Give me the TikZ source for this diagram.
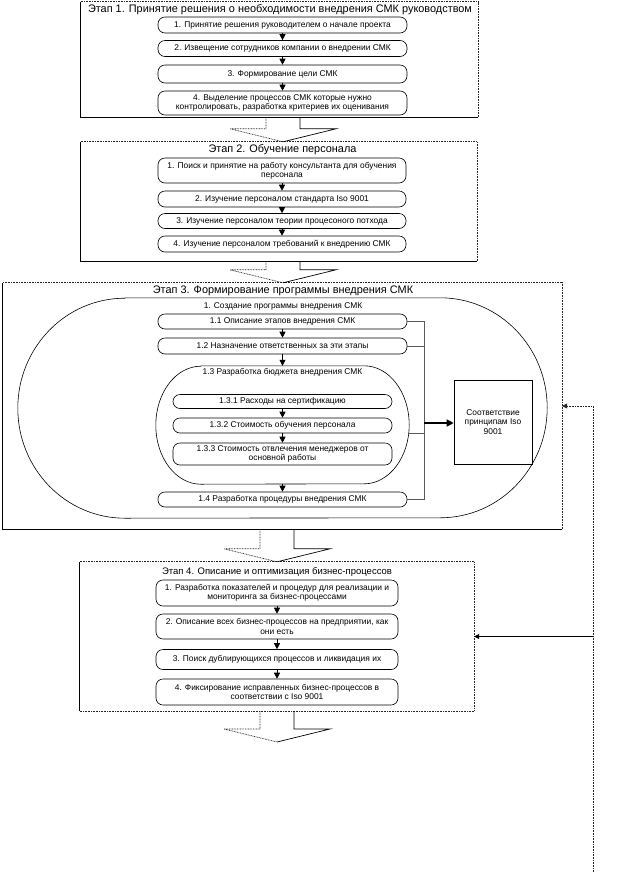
\documentclass[tikz,border=0pt]{standalone}
\usepackage{fontspec}
\setmainfont{Liberation Sans}
\usetikzlibrary{arrows.meta}

\begin{document}
\begin{tikzpicture}[x=1pt, y=-1pt,
  stage/.style={inner sep=0pt},
  title/.style={font=\fontsize{10.9}{12}\selectfont, inner sep=0pt},
  task/.style={draw, line width=0.6pt, rounded corners=7pt, align=center, inner sep=1pt, font=\fontsize{8.4}{9.4}\selectfont},
  note/.style={font=\fontsize{8.4}{9.4}\selectfont, inner sep=1pt},
  rim/.style={line width=0.7pt},
  rimdot/.style={line width=0.7pt, dash pattern=on 0.8pt off 0.8pt, black!85},
  flow/.style={-{Triangle[length=6pt, width=6pt]}, line width=0.6pt},
  link/.style={line width=0.6pt, black!65},
]
  \path[fill=white, use as bounding box] (0,0) rectangle (618,884);

  % stage 1
  \node[stage, minimum width=397pt, minimum height=115pt] (s1) at (279.5,59.5) {};
  \node[title] (t1) at (280,10) {Этап 1. Принятие решения о необходимости внедрения СМК руководством};
  \node[task, minimum width=249pt, minimum height=16pt] (s1a) at (282.5,25) {1. Принятие решения руководителем о начале проекта};
  \node[task, minimum width=249pt, minimum height=16pt] (s1b) at (282.5,48.5) {2. Извещение сотрудников компании о внедрении СМК};
  \node[task, minimum width=249pt, minimum height=18pt] (s1c) at (282.5,74) {3. Формирование цели СМК};
  \node[task, minimum width=249pt, minimum height=24pt] (s1d) at (282.5,103) {4. Выделение процессов СМК которые нужно\\контролировать, разработка критериев их оценивания};

  % stage 2
  \node[stage, minimum width=396pt, minimum height=119pt] (s2) at (279,201.5) {};
  \node[title] (t2) at (282.5,150) {Этап 2. Обучение персонала};
  \node[task, minimum width=248pt, minimum height=25pt] (s2a) at (282,170.5) {1. Поиск и принятие на работу консультанта для обучения\\персонала};
  \node[task, minimum width=248pt, minimum height=16pt] (s2b) at (282,199) {2. Изучение персоналом стандарта Iso 9001};
  \node[task, minimum width=248pt, minimum height=15pt] (s2c) at (282,221) {3. Изучение персоналом теории процесоного потхода};
  \node[task, minimum width=248pt, minimum height=16pt] (s2d) at (282,244) {4. Изучение персоналом требований к внедрению СМК};

  % stage 3
  \node[stage, minimum width=559pt, minimum height=246pt] (s3) at (282.5,406) {};
  \node[title] (t3) at (283,290.5) {Этап 3. Формирование программы внедрения СМК};
  \node[stage, minimum width=529pt, minimum height=220pt] (prog) at (282.5,408) {};
  \draw[line width=0.6pt] ([xshift=107pt]prog.north west) -- ([xshift=-107pt]prog.north east)
    arc[start angle=90, end angle=-90, x radius=107pt, y radius=110pt]
    -- ([xshift=107pt]prog.south west)
    arc[start angle=270, end angle=90, x radius=107pt, y radius=110pt] -- cycle;
  \node[note] (progt) at (283,306) {1. Создание программы внедрения СМК};
  \node[task, minimum width=249pt, minimum height=15pt] (i11) at (282.5,321.5) {1.1 Описание этапов внедрения СМК};
  \node[task, minimum width=249pt, minimum height=16pt] (i12) at (282.5,346) {1.2 Назначение ответственных за эти этапы};
  \node[stage, minimum width=253pt, minimum height=118pt] (budget) at (282.5,425) {};
  \draw[line width=0.6pt] ([xshift=45pt]budget.north west) -- ([xshift=-45pt]budget.north east)
    arc[start angle=90, end angle=-90, x radius=45pt, y radius=59pt]
    -- ([xshift=45pt]budget.south west)
    arc[start angle=270, end angle=90, x radius=45pt, y radius=59pt] -- cycle;
  \node[note, fill=white] (budgett) at (282.5,372.5) {1.3 Разработка бюджета внедрения СМК};
  \node[task, minimum width=219pt, minimum height=14pt] (i131) at (282.5,401.5) {1.3.1 Расходы на сертификацию};
  \node[task, minimum width=219pt, minimum height=15pt] (i132) at (282.5,425.5) {1.3.2 Стоимость обучения персонала};
  \node[task, minimum width=219pt, minimum height=22pt] (i133) at (282.5,454) {1.3.3 Стоимость отвлечения менеджеров от\\основной работы};
  \node[task, minimum width=249pt, minimum height=15pt] (i14) at (282.5,499.5) {1.4 Разработка процедуры внедрения СМК};
  \node[draw, line width=0.6pt, note, align=center, minimum width=78pt, minimum height=84pt] (iso) at (493,422) {Соответствие\\принципам Iso\\9001};
  \coordinate (bus) at (424,423);

  % stage 4
  \node[stage, minimum width=394pt, minimum height=149pt] (s4) at (277,636.5) {};
  \node[title, font=\fontsize{9.5}{11}\selectfont] (t4) at (277,572) {Этап 4. Описание и оптимизация бизнес-процессов};
  \node[task, minimum width=242pt, minimum height=26pt] (s4a) at (277,593) {1. Разработка показателей и процедур для реализации и\\мониторинга за бизнес-процессами};
  \node[task, minimum width=242pt, minimum height=25pt] (s4b) at (277,626.5) {2. Описание всех бизнес-процессов на предприятии, как\\они есть};
  \node[task, minimum width=242pt, minimum height=20pt] (s4c) at (277,659.5) {3. Поиск дублирующихся процессов и ликвидация их};
  \node[task, minimum width=242pt, minimum height=26pt] (s4d) at (277,692) {4. Фиксирование исправленных бизнес-процессов в\\соответствии с Iso 9001};
  \coordinate (s5) at (277,742);
  \coordinate (fb) at (593,872);

  % stage frames
  \foreach \s in {s1,s2,s3} {
    \draw[rim] (\s.north west) -- (\s.south west) -- (\s.south east);
    \draw[rimdot] (\s.south east) -- (\s.north east) -- (\s.north west);
  }
  \draw[rim] (s4.north west) -- (s4.south west);
  \draw[rimdot] (s4.south west) -- (s4.south east) -- (s4.north east) -- (s4.north west);

  % block arrows between stages
  \foreach \from/\to/\cx in {s1.south/s2.north/283, s2.south/s3.north/283, s3.south/s4.north/277, s4.south/s5/277} {
    \path (\cx,0 |- \from) coordinate (top) (\cx,0 |- \to) coordinate (tip);
    \draw[rimdot] ([xshift=-17pt]top) -- ([xshift=-17pt, yshift=13pt]tip) -- ([xshift=-53pt, yshift=13pt]tip) -- (tip);
    \draw[rim] ([xshift=17pt]top) -- ([xshift=17pt, yshift=13pt]tip) -- ([xshift=53pt, yshift=13pt]tip) -- (tip);
  }

  % steps inside the stages
  \foreach \a/\b in {s1a/s1b, s1b/s1c, s1c/s1d, s2a/s2b, s2b/s2c, s2c/s2d, i11/i12, i131/i132, i132/i133, s4a/s4b, s4b/s4c, s4c/s4d}
    \draw[flow] (\a) -- (\b);
  \draw[flow] (i12) -- (budget.north);
  \draw[flow] (budget.south) -- (i14);

  % outputs of the programme
  \draw[link] (i11.east) -- (i11.east -| bus) -- (i14.east -| bus) -- (i14.east);
  \draw[link] (i12.east) -- (i12.east -| bus);
  \draw[link] ([yshift=-8pt]budget.east) -- ([yshift=-8pt]budget.east -| bus);
  \draw[line width=1.5pt, -{Triangle[length=7pt, width=7pt]}] (bus) -- (bus -| iso.west);

  % feedback
  \draw[rimdot, -{Triangle[length=5pt, width=5pt]}] (fb) -- (fb |- s3.east) -- (s3.east);
  \draw[rim, -{Triangle[length=5pt, width=5pt]}] (fb |- s4.east) -- (s4.east);
\end{tikzpicture}
\end{document}
